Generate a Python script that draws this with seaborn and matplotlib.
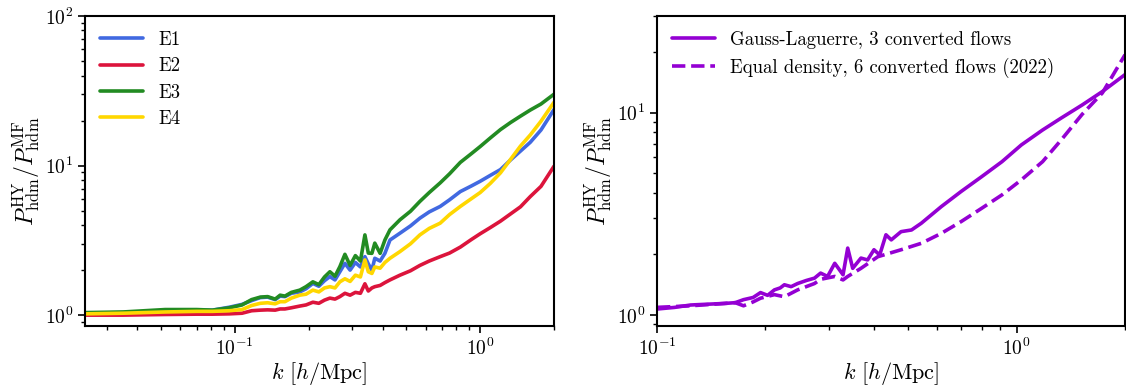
import numpy as np
import pandas as pd
import matplotlib
matplotlib.use("Agg")
import matplotlib.pyplot as plt
import seaborn as sns

# ---------------- data ----------------
k_left = [0.0245, 0.035, 0.052, 0.07, 0.081, 0.095, 0.107, 0.117, 0.127, 0.136,
          0.146, 0.153, 0.160, 0.170, 0.184, 0.195, 0.208, 0.22, 0.232, 0.244,
          0.256, 0.268, 0.281, 0.295, 0.31, 0.325, 0.339, 0.35, 0.362, 0.372,
          0.391, 0.409, 0.429, 0.471, 0.52, 0.568, 0.62, 0.687, 0.75, 0.83,
          0.92, 1.0, 1.1, 1.21, 1.33, 1.46, 1.6, 1.77, 2.0]

e1 = [1.03, 1.04, 1.07, 1.08, 1.08, 1.13, 1.18, 1.25, 1.31, 1.32,
      1.27, 1.34, 1.33, 1.40, 1.43, 1.50, 1.63, 1.56, 1.70, 1.81,
      1.72, 1.95, 2.22, 2.0, 2.25, 2.1, 2.46, 2.2, 2.0, 2.4,
      2.3, 2.59, 3.18, 3.53, 3.95, 4.45, 4.9, 5.33, 5.9, 6.7,
      7.3, 7.85, 8.6, 9.4, 10.9, 12.5, 14.3, 17.3, 23.7]

e2 = [1.00, 1.00, 1.01, 1.015, 1.015, 1.02, 1.03, 1.07, 1.08, 1.085,
      1.08, 1.10, 1.10, 1.12, 1.15, 1.17, 1.22, 1.20, 1.26, 1.30,
      1.28, 1.33, 1.40, 1.36, 1.42, 1.40, 1.62, 1.45, 1.52, 1.55,
      1.58, 1.65, 1.72, 1.85, 1.98, 2.15, 2.3, 2.46, 2.6, 2.85,
      3.2, 3.5, 3.85, 4.25, 4.75, 5.3, 6.2, 7.26, 9.9]

e3 = [1.04, 1.05, 1.09, 1.09, 1.08, 1.12, 1.17, 1.27, 1.32, 1.33,
      1.28, 1.36, 1.34, 1.42, 1.47, 1.55, 1.67, 1.60, 1.80, 1.95,
      1.82, 2.11, 2.55, 2.15, 2.50, 2.30, 3.44, 2.60, 2.59, 3.03,
      2.59, 3.18, 3.72, 4.34, 4.95, 5.76, 6.6, 7.66, 8.8, 10.5,
      12.0, 13.4, 15.3, 17.4, 19.4, 21.4, 23.5, 25.8, 30.0]

e4 = [1.02, 1.03, 1.05, 1.06, 1.06, 1.07, 1.09, 1.16, 1.20, 1.21,
      1.19, 1.23, 1.23, 1.30, 1.36, 1.38, 1.47, 1.43, 1.52, 1.55,
      1.52, 1.67, 1.75, 1.68, 1.85, 1.80, 2.34, 1.95, 1.90, 2.1,
      2.06, 2.25, 2.40, 2.66, 3.0, 3.44, 3.8, 4.12, 4.7, 5.33,
      6.0, 6.6, 7.6, 8.94, 11.0, 13.5, 16.0, 19.8, 26.5]

left_labels = ["E1", "E2", "E3", "E4"]
left_colors = ["royalblue", "crimson", "forestgreen", "gold"]

k_gl = [0.1, 0.112, 0.124, 0.138, 0.154, 0.165, 0.174, 0.185, 0.194, 0.203,
        0.212, 0.22, 0.226, 0.236, 0.246, 0.26, 0.274, 0.285, 0.298, 0.312,
        0.329, 0.339, 0.350, 0.369, 0.385, 0.401, 0.416, 0.433, 0.448, 0.477,
        0.51, 0.543, 0.617, 0.70, 0.80, 0.91, 1.03, 1.18, 1.33, 1.52,
        1.73, 2.0]
r_gl = [1.07, 1.09, 1.12, 1.13, 1.14, 1.15, 1.19, 1.22, 1.29, 1.25,
        1.33, 1.36, 1.41, 1.38, 1.43, 1.48, 1.52, 1.61, 1.55, 1.80,
        1.58, 2.14, 1.70, 1.91, 1.87, 2.10, 1.98, 2.49, 2.35, 2.58,
        2.63, 2.84, 3.43, 4.07, 4.83, 5.72, 6.92, 8.2, 9.4, 10.9,
        12.7, 15.4]

k_ed = [0.1, 0.124, 0.154, 0.165, 0.174, 0.185, 0.194, 0.212, 0.226, 0.246,
        0.274, 0.285, 0.312, 0.329, 0.339, 0.369, 0.411, 0.477, 0.543, 0.617,
        0.70, 0.80, 0.91, 1.03, 1.18, 1.33, 1.52, 1.73, 2.0]
r_ed = [1.09, 1.11, 1.14, 1.15, 1.11, 1.16, 1.21, 1.26, 1.23, 1.33,
        1.43, 1.50, 1.55, 1.49, 1.55, 1.70, 1.94, 2.10, 2.26, 2.53,
        2.89, 3.37, 3.92, 4.65, 5.72, 7.33, 9.8, 12.5, 19.3]

right_labels = ["Gauss-Laguerre, 3 converted flows",
                "Equal density, 6 converted flows (2022)"]
purple = "darkviolet"

# ---------------- style ----------------
sns.set_style("ticks")
plt.rcParams.update({
    "font.family": ["cmr10", "DejaVu Serif"],
    "mathtext.fontset": "cm",
    "axes.unicode_minus": False,
    "axes.formatter.use_mathtext": True,
    "axes.edgecolor": "black",
    "axes.linewidth": 1.5,
    "xtick.color": "black",
    "ytick.color": "black",
    "text.color": "black",
    "axes.labelcolor": "black",
    "xtick.direction": "out",
    "ytick.direction": "out",
    "xtick.major.size": 5,
    "ytick.major.size": 5,
    "xtick.minor.size": 3,
    "ytick.minor.size": 3,
    "xtick.major.width": 1.2,
    "ytick.major.width": 1.2,
    "xtick.minor.width": 1.0,
    "ytick.minor.width": 1.0,
})

W, H = 1126, 387
fig = plt.figure(figsize=(W / 100, H / 100), dpi=100)
ax1 = fig.add_axes([85 / W, (H - 325.7) / H, 469 / W, 309.7 / H])
ax2 = fig.add_axes([657 / W, (H - 325.7) / H, 468 / W, 309.7 / H])

ylab = r"$P^{\rm HY}_{\rm hdm}/P^{\rm MF}_{\rm hdm}$"
xlab = r"$k\ [h/{\rm Mpc}]$"
lw = 2.6

for vals, lab, col in zip([e1, e2, e3, e4], left_labels, left_colors):
    df = pd.DataFrame({"k": k_left, "r": vals})
    sns.lineplot(data=df, x="k", y="r", ax=ax1, color=col, lw=lw, label=lab)
ax1.set_xscale("log")
ax1.set_yscale("log")
ax1.set_xlim(0.0245, 2.0)
ax1.set_ylim(0.85, 100)

df_gl = pd.DataFrame({"k": k_gl, "r": r_gl})
df_ed = pd.DataFrame({"k": k_ed, "r": r_ed})
sns.lineplot(data=df_gl, x="k", y="r", ax=ax2, color=purple, lw=lw,
             label=right_labels[0])
sns.lineplot(data=df_ed, x="k", y="r", ax=ax2, color=purple, lw=lw,
             linestyle="--", label=right_labels[1])
ax2.set_xscale("log")
ax2.set_yscale("log")
ax2.set_xlim(0.1, 2.0)
ax2.set_ylim(0.885, 30)

for ax in (ax1, ax2):
    ax.set_xlabel(xlab, fontsize=16, labelpad=1)
    ax.set_ylabel(ylab, fontsize=17, labelpad=2)
    ax.tick_params(axis="both", which="major", labelsize=14)
    ax.legend(loc="upper left", frameon=False, fontsize=13.5,
              handlelength=2.3, handletextpad=0.8, labelspacing=0.45,
              borderaxespad=0.4)

fig.savefig("out.png", dpi=100)
